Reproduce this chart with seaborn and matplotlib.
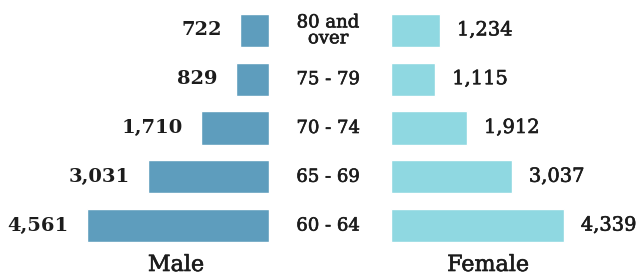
import matplotlib
matplotlib.use("Agg")
import matplotlib.pyplot as plt
import matplotlib.transforms as mtransforms
import matplotlib.patheffects as pe
import seaborn as sns

# age groups, top to bottom
age_groups = ["80 and\nover", "75 - 79", "70 - 74", "65 - 69", "60 - 64"]
male = [722, 829, 1710, 3031, 4561]
female = [1234, 1115, 1912, 3037, 4339]

male_color = "#5e9dbd"
female_color = "#8fd8e1"
text_color = "#1c1c1c"

sns.set_theme(style="white")
plt.rcParams["font.family"] = ["DejaVu Serif", "DejaVu Sans"]

W, H = 641, 277
fig = plt.figure(figsize=(W / 100, H / 100), dpi=100)

px_per_unit = 182 / 4561
bottom = (H - 250) / H
height = 244 / H

ax_m = fig.add_axes([0, bottom, 269 / W, height])
ax_f = fig.add_axes([391 / W, bottom, 250 / W, height])

sns.barplot(x=male, y=age_groups, ax=ax_m, color=male_color, orient="h",
            width=0.68, saturation=1)
sns.barplot(x=female, y=age_groups, ax=ax_f, color=female_color, orient="h",
            width=0.68, saturation=1)

ax_m.set_xlim(269 / px_per_unit, 0)
ax_f.set_xlim(0, 250 / px_per_unit)

for ax in (ax_m, ax_f):
    ax.set_ylim(4.5, -0.5)
    ax.axis("off")

# a thin stroke makes the regular face look like a medium weight
medium = [pe.withStroke(linewidth=0.45, foreground=text_color)]

ax_m.bar_label(ax_m.containers[0], labels=[f"{v:,}" for v in male],
               padding=13, fontsize=14, fontweight="bold", color=text_color)
f_labels = ax_f.bar_label(ax_f.containers[0], labels=[f"{v:,}" for v in female],
                          padding=12, fontsize=14, color=text_color)
for t in f_labels:
    t.set_path_effects(medium)

# age group labels in the gap between the two sides
trans = mtransforms.blended_transform_factory(fig.transFigure, ax_m.transData)
for i, label in enumerate(age_groups):
    ax_m.text(328 / W, i, label, transform=trans, ha="center", va="center",
              fontsize=13, color=text_color, linespacing=0.85,
              path_effects=medium)

fig.text(176 / W, 1 / H, "Male", ha="center", va="bottom",
         fontsize=16, color=text_color, path_effects=medium)
fig.text(488 / W, 1 / H, "Female", ha="center", va="bottom",
         fontsize=16, color=text_color, path_effects=medium)

fig.savefig("out.png", dpi=100, facecolor="white")
